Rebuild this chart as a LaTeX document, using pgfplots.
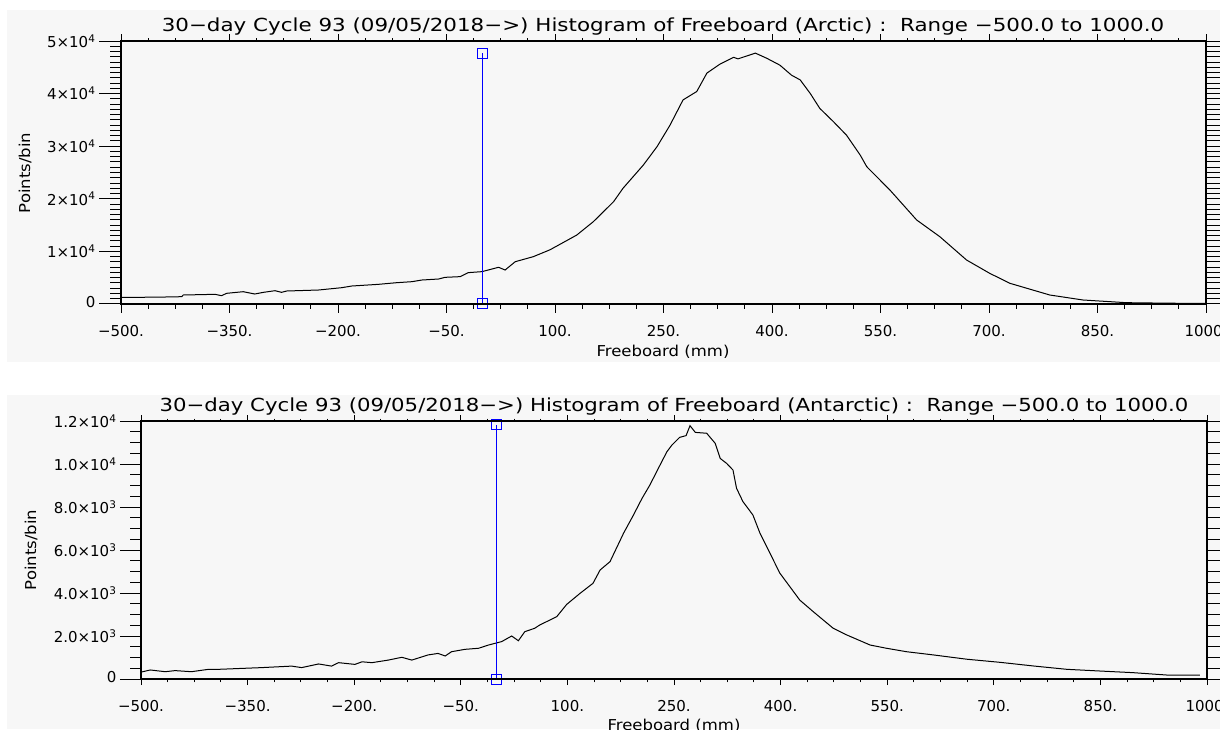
\documentclass[border=0pt]{standalone}
\usepackage{fontspec}
\setmainfont{DejaVu Sans}
\usepackage{pgfplots}
\pgfplotsset{compat=1.18}
\definecolor{bg}{RGB}{247,247,247}
\newcommand{\tl}{\fontsize{15}{17}\selectfont}
\pgfplotsset{
  base/.style={scale only axis, axis line style={line width=1.2pt}, 
    every tick/.style={black, line width=1pt}, tick align=outside,
    xmin=-500, xmax=1000, clip=false, scaled ticks=false,
    tick label style={font=\tl}},
  toppanel/.style={base, at={(121pt,425pt)}, anchor=south west, width=1085pt, height=263pt, ymin=0, ymax=50000},
  botpanel/.style={base, at={(141pt,50pt)}, anchor=south west, width=1066pt, height=258pt, ymin=0, ymax=12000},
  xlabs/.style={xtick={-500,-350,...,1000}, minor x tick num=3,
    xticklabels={−500.,−350.,−200.,−50.,100.,250.,400.,550.,700.,850.,1000.}},
}
\pgfplotstableread{
x y
-500 1250
-450 1300
-416 1390
-414 1710
-370 1840
-361 1580
-354 2030
-331 2340
-315 1900
-303 2220
-287 2530
-278 2220
-271 2470
-227 2660
-195 3100
-181 3420
-144 3740
-119 4050
-98 4240
-84 4560
-61 4750
-52 5070
-31 5200
-20 5960
-1 6150
22 6980
31 6460
45 8040
70 9000
93 10300
130 13100
153 15650
181 19450
194 22000
208 24200
222 26400
241 29900
259 34000
277 38800
296 40400
310 43900
328 45600
347 46900
353 46600
377 47700
393 46700
411 45400
427 43500
439 42600
453 40000
466 37200
485 34650
503 32100
522 28300
531 26100
563 21670
600 15970
632 12800
669 8360
701 5830
729 3930
784 1710
830 760
890 250
950 150
1000 100
}\arctic
\pgfplotstableread{
x y
-500 320
-487 420
-466 340
-452 390
-429 340
-405 450
-391 450
-330 530
-288 600
-274 530
-250 700
-232 600
-222 760
-199 680
-189 800
-175 760
-152 880
-133 1010
-119 880
-96 1120
-82 1190
-72 1070
-63 1270
-44 1380
-25 1430
-11 1580
7.5 1740
21.6 2000
31 1780
40 2200
54 2360
61 2510
85 2900
99 3470
118 3990
136 4450
146 5070
160 5460
179 6780
193 7630
205 8400
216 9020
228 9800
240 10570
247 10880
258 11240
267 11320
272.5 11780
280 11470
296 11430
308 10960
315 10260
324 10030
333 9720
338 8870
347 8250
361 7630
371 6780
399 4920
427 3670
446 3130
474 2360
493 2050
526 1580
549 1430
577 1270
615 1120
662 920
709 775
756 605
803 450
849 372
896 295
943 186
990 186
}\antarctic
\begin{document}
\begin{tikzpicture}[x=1pt,y=1pt]
\useasboundingbox (0,0) rectangle (1220,729);
\clip (0,0) rectangle (1220,729);
\fill[white] (0,0) rectangle (1220,729);
\fill[bg] (7,367) rectangle (1220,719);
\fill[bg] (7,0) rectangle (1220,334);
% ---------- top panel ----------
\begin{axis}[toppanel, xlabs, xtick pos=left, major tick length=9pt, minor tick length=5pt, ytick=\empty, xticklabel style={yshift=-9pt}]
\addplot[black, line width=1pt, mark=none] table[x=x,y=y] {\arctic};
\addplot[blue, line width=1.3pt, mark=square, mark size=5pt, mark options={solid, line width=1pt}] coordinates {(0,0) (0,47700)};
\end{axis}
\begin{axis}[toppanel, xtick={-500,-350,...,1000}, minor x tick num=3, xticklabels={}, xtick pos=right, major tick length=7pt, minor tick length=3pt, ytick=\empty]
\end{axis}
\begin{axis}[toppanel, xtick=\empty, ytick={0,10000,...,50000}, minor y tick num=9, ytick pos=left, major tick length=22pt, minor tick length=11pt,
  yticklabels={\raisebox{4pt}{0}, 1×10\textsuperscript{4}, 2×10\textsuperscript{4}, 3×10\textsuperscript{4}, 4×10\textsuperscript{4}, \raisebox{-8pt}{5×10\textsuperscript{4}}}]
\end{axis}
\begin{axis}[toppanel, xtick=\empty, ytick={0,1000,...,50000}, yticklabels={}, ytick pos=right, major tick length=16pt]
\end{axis}
% ---------- bottom panel ----------
\begin{axis}[botpanel, xlabs, xtick pos=left, major tick length=6pt, minor tick length=3.3pt, ytick=\empty, xticklabel style={yshift=-12pt}]
\addplot[black, line width=1pt, mark=none] table[x=x,y=y] {\antarctic};
\addplot[blue, line width=1.3pt, mark=square, mark size=5pt, mark options={solid, line width=1pt}] coordinates {(0,0) (0,11820)};
\end{axis}
\begin{axis}[botpanel, xtick={-500,-350,...,1000}, minor x tick num=3, xticklabels={}, xtick pos=right, major tick length=6pt, minor tick length=2.5pt, ytick=\empty]
\end{axis}
\begin{axis}[botpanel, xtick=\empty, ytick={0,2000,...,12000}, minor y tick num=3, ytick pos=left, major tick length=21pt, minor tick length=11pt,
  yticklabels={\raisebox{4pt}{0}, 2.0×10\textsuperscript{3}, 4.0×10\textsuperscript{3}, 6.0×10\textsuperscript{3}, 8.0×10\textsuperscript{3}, 1.0×10\textsuperscript{4}, \raisebox{-8pt}{1.2×10\textsuperscript{4}}}]
\end{axis}
\begin{axis}[botpanel, xtick=\empty, ytick={0,500,...,12000}, yticklabels={}, ytick pos=right, major tick length=16pt]
\end{axis}
% ---------- texts ----------
\node[anchor=base, font=\fontsize{18}{20}\selectfont, inner sep=0pt] at (663,697) {\scalebox{1.19}[1]{30−day Cycle 93 (09/05/2018−>) Histogram of Freeboard (Arctic) :\ \ Range −500.0 to 1000.0}};
\node[anchor=base, font=\fontsize{18}{20}\selectfont, inner sep=0pt] at (674,317) {\scalebox{1.18}[1]{30−day Cycle 93 (09/05/2018−>) Histogram of Freeboard (Antarctic) :\ \ Range −500.0 to 1000.0}};
\node[anchor=base, font=\fontsize{15}{17}\selectfont, inner sep=0pt] at (663,372) {\scalebox{1.1}[1]{Freeboard (mm)}};
\node[anchor=base, font=\fontsize{15}{17}\selectfont, inner sep=0pt] at (674,-1) {\scalebox{1.1}[1]{Freeboard (mm)}};
\node[rotate=90, font=\fontsize{15}{17}\selectfont, inner sep=0pt] at (25,556) {\scalebox{1.1}[1]{Points/bin}};
\node[rotate=90, font=\fontsize{15}{17}\selectfont, inner sep=0pt] at (31,179) {\scalebox{1.1}[1]{Points/bin}};
\end{tikzpicture}
\end{document}
